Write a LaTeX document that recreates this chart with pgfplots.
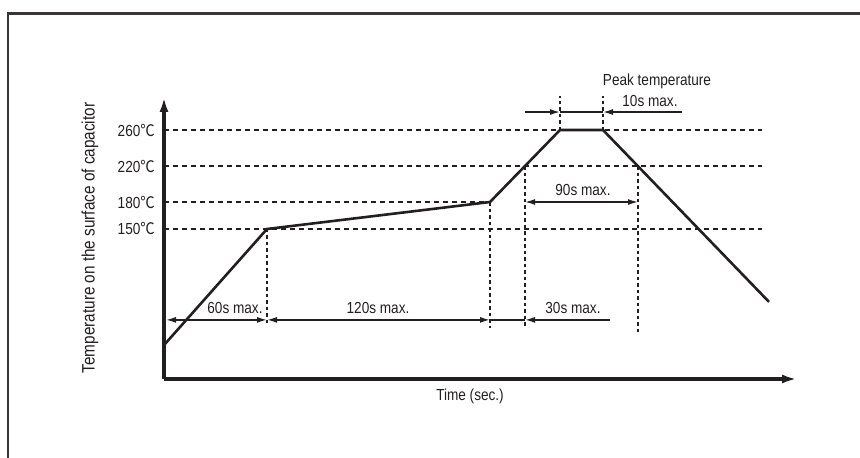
\documentclass[border=0pt]{standalone}
\usepackage{pgfplots}
\pgfplotsset{compat=1.18}
\usetikzlibrary{arrows.meta}
\usepackage{fontspec}
\setmainfont{Liberation Sans}[FakeStretch=0.85]
\newfontfamily\cjk{Noto Sans CJK SC}[FakeStretch=0.9]
\newcommand{\degC}{{\cjk ℃}}
\definecolor{ink}{HTML}{231F20}
\tikzset{
  hd/.style={line width=2.6pt, ink, dash pattern=on 5pt off 4pt},
  vd/.style={line width=2.8pt, ink, dash pattern=on 3.5pt off 3pt},
  ar/.style={line width=1.5pt, ink},
  lbl/.style={font=\fontsize{16}{18}\selectfont, text=ink},
}
\begin{document}
\begin{tikzpicture}[x=1pt,y=1pt]
\path[use as bounding box] (0,0) rectangle (860,458);
\draw[line width=2.3pt, color=ink!90] (8.3,-20) -- (8.3,444.5) -- (880,444.5);
\begin{axis}[
  at={(164pt,79pt)}, anchor=south west,
  scale only axis, width=633pt, height=282pt,
  xmin=0, xmax=633, ymin=-16.7, ymax=296.7,
  axis x line=bottom, axis y line=left,
  axis line style={line width=3.2pt, color=ink},
  every outer x axis line/.append style={-{Latex[length=15pt,width=9pt]}},
  every outer y axis line/.append style={-{Latex[length=15pt,width=9pt]}},
  xtick=\empty,
  ytick={150,180,220,260},
  yticklabels={150\degC,180\degC,220\degC,260\degC},
  major tick length=0pt,
  yticklabel style={anchor=east, inner sep=0pt, xshift=-9pt, font=\fontsize{16}{18}\selectfont, text=ink},
  clip=false,
]
% horizontal dashed reference lines
\addplot[hd] coordinates {(0,260) (598,260)};
\addplot[hd] coordinates {(0,220) (598,220)};
\addplot[hd] coordinates {(0,180) (326,180)};
\addplot[hd] coordinates {(0,150) (598,150)};
% vertical dotted lines
\addplot[vd] coordinates {(103,150) (103,43.3)};
\addplot[vd] coordinates {(326,180) (326,40)};
\addplot[vd] coordinates {(361,220) (361,40)};
\addplot[vd] coordinates {(474,220) (474,35.6)};
\addplot[vd] coordinates {(396,260) (396,298)};
\addplot[vd] coordinates {(439,260) (439,298)};
% temperature profile
\addplot[line width=2.6pt, ink, line join=miter] coordinates {(0,21) (103,150) (326,180) (396,260) (439,260) (605,69)};
% dimension arrows
\addplot[ar, {Latex[length=10pt,width=6pt]}-{Latex[length=10pt,width=6pt]}] coordinates {(2,49) (103,49)};
\addplot[ar, {Latex[length=10pt,width=6pt]}-{Latex[length=10pt,width=6pt]}] coordinates {(103,49) (326,49)};
\addplot[ar] coordinates {(326,49) (361,49)};
\addplot[ar, {Latex[length=10pt,width=6pt]}-] coordinates {(361,49) (446,49)};
\addplot[ar, {Latex[length=10pt,width=6pt]}-{Latex[length=10pt,width=6pt]}] coordinates {(361,180) (474,180)};
\addplot[ar, -{Latex[length=10pt,width=6pt]}] coordinates {(361,280) (396,280)};
\addplot[ar] coordinates {(396,280) (439,280)};
\addplot[ar, {Latex[length=10pt,width=6pt]}-] coordinates {(439,280) (518,280)};
% labels
\node[lbl] at (axis cs:71,62.5) {60s max.};
\node[lbl] at (axis cs:214,62.5) {120s max.};
\node[lbl] at (axis cs:409,62.5) {30s max.};
\node[lbl] at (axis cs:419,193.5) {90s max.};
\node[lbl] at (axis cs:486,292.5) {10s max.};
\node[lbl] at (axis cs:493,314.5) {Peak temperature};
\end{axis}
\node[lbl] at (470,62) {Time (sec.)};
\node[font=\fontsize{18}{20}\selectfont, text=ink, rotate=90] at (90,220) {Temperature on the surface of capacitor};
\end{tikzpicture}
\end{document}
